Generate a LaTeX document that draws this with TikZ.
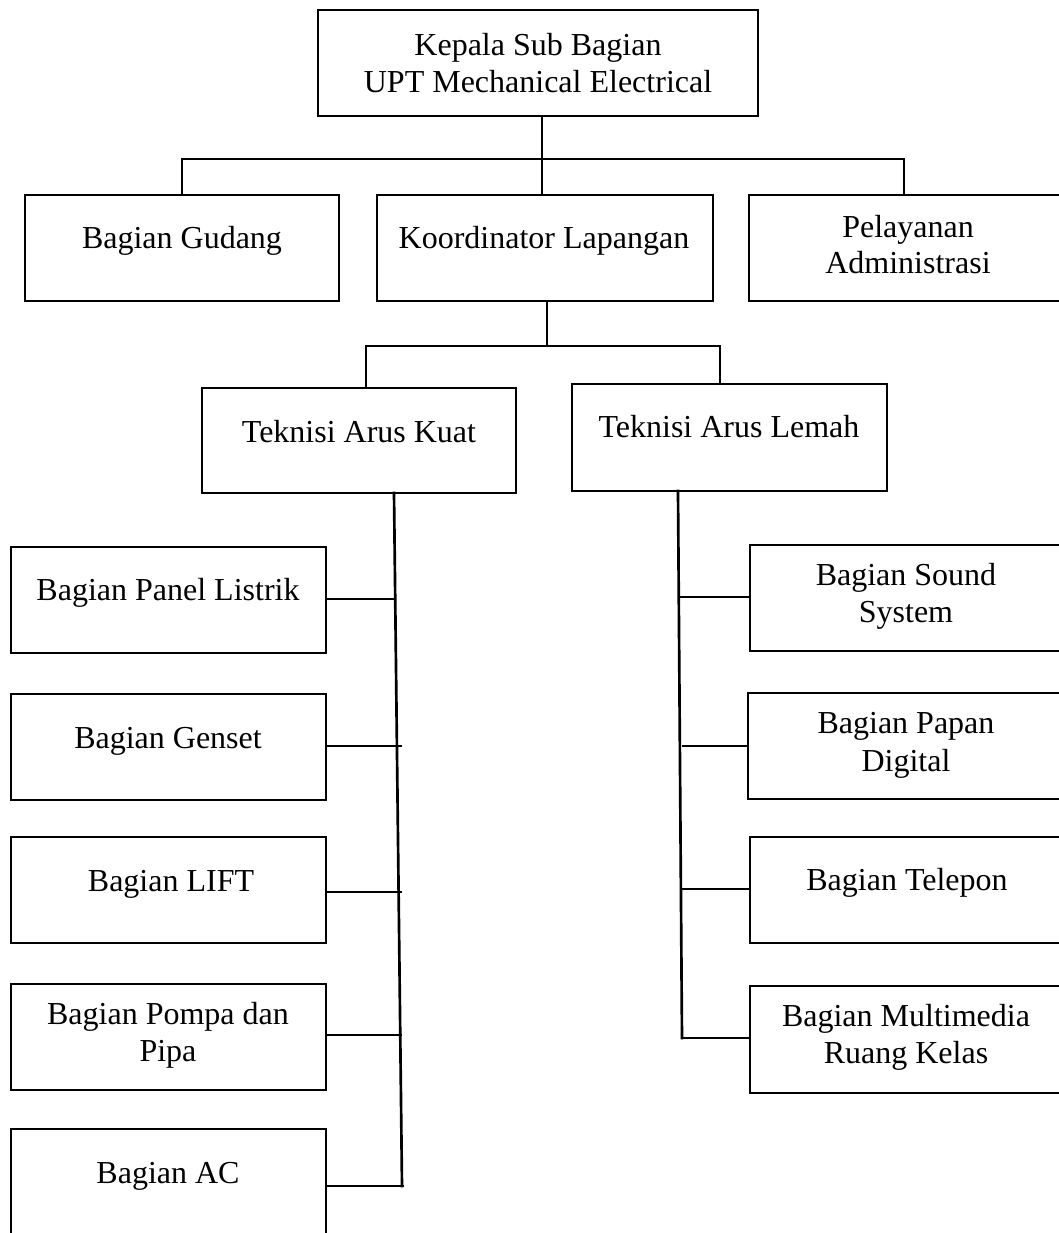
\documentclass[tikz,border=0pt]{standalone}
\usepackage{fontspec}
\setmainfont{Liberation Serif}
\begin{document}
\begin{tikzpicture}[x=0.75pt,y=-0.75pt,
  box/.style={draw=black,line width=2pt,rectangle,inner sep=0pt,fill=none},
  txt/.style={anchor=base,inner sep=0pt,font=\fontsize{24}{28}\selectfont},
  conn/.style={draw=black,line width=2pt,line cap=rect}]
\useasboundingbox (0,0) rectangle (1059,1233);
\newcommand\orgbox[5]{\node[box,minimum width={(#3-#1)*0.75pt},minimum height={(#4-#2)*0.75pt}] (#5) at ({(#1+#3)/2},{(#2+#4)/2}) {};}
% boxes
\orgbox{318}{10}{758}{116}{top}
\orgbox{25}{195}{339}{301}{gud}
\orgbox{377}{195}{713}{301}{kor}
\orgbox{749}{195}{1067}{301}{pel}
\orgbox{202}{388}{516}{493}{kuat}
\orgbox{572}{384}{887}{491}{lemah}
\orgbox{11}{547}{326}{653}{panel}
\orgbox{11}{694}{326}{800}{genset}
\orgbox{11}{837}{326}{943}{lift}
\orgbox{11}{984}{326}{1090}{pompa}
\orgbox{11}{1129}{326}{1240}{ac}
\orgbox{750}{545}{1062}{651}{sound}
\orgbox{748}{693}{1062}{799}{papan}
\orgbox{750}{837}{1062}{943}{telepon}
\orgbox{750}{986}{1062}{1093}{multi}
% texts
\node[txt] (ttop1) at (538,55) {Kepala Sub Bagian};
\node[txt] (ttop2) at (538,92) {UPT Mechanical Electrical};
\node[txt] (tgud) at (182,248) {Bagian Gudang};
\node[txt] (tkor) at (544,248) {Koordinator Lapangan};
\node[txt] (tpel1) at (908,237) {Pelayanan};
\node[txt] (tpel2) at (908,273) {Administrasi};
\node[txt] (tkuat) at (359,442) {Teknisi Arus Kuat};
\node[txt] (tlemah) at (729,437) {Teknisi Arus Lemah};
\node[txt] (tpanel) at (168,600) {Bagian Panel Listrik};
\node[txt] (tgenset) at (168,748) {Bagian Genset};
\node[txt] (tlift) at (171,891) {Bagian LIFT};
\node[txt] (tpompa1) at (168,1024) {Bagian Pompa dan};
\node[txt] (tpompa2) at (168,1061) {Pipa};
\node[txt] (tac) at (168,1183) {Bagian AC};
\node[txt] (tsound1) at (906,585) {Bagian Sound};
\node[txt] (tsound2) at (906,622) {System};
\node[txt] (tpapan1) at (906,733) {Bagian Papan};
\node[txt] (tpapan2) at (906,771) {Digital};
\node[txt] (ttelepon) at (907,890) {Bagian Telepon};
\node[txt] (tmulti1) at (906,1026) {Bagian Multimedia};
\node[txt] (tmulti2) at (906,1063) {Ruang Kelas};
% junctions
\coordinate (j1) at (542,159);
\coordinate (j2) at (547,346);
\coordinate (k1) at (366,346);
\coordinate (k2) at (720,346);
\coordinate (kt) at (394,493);
\coordinate (kb) at (402,1186);
\coordinate (lt) at (678,491);
\coordinate (lb) at (682,1038);
\coordinate (cpanel) at (395,599);
\coordinate (cgenset) at (401,746);
\coordinate (clift) at (401,892);
\coordinate (cpompa) at (401,1035);
\coordinate (cac) at (403,1186);
\coordinate (csound) at (679,597);
\coordinate (cpapan) at (683,746);
\coordinate (ctelepon) at (681,889);
% connectors
\draw[conn] (top.south -| j1) -- (kor.north -| j1);
\draw[conn] (gud.north) |- (j1) -| ([xshift=-3]pel.north);
\draw[conn] (kor.south -| j2) -- (j2);
\draw[conn] (kuat.north -| k1) |- (k2) -- (lemah.north -| k2);
\draw[conn] (kt) -- (kb);
\draw[conn] (lt) -- (lb);
\draw[conn] (panel.east |- cpanel) -- (cpanel);
\draw[conn] (genset.east |- cgenset) -- (cgenset);
\draw[conn] (lift.east |- clift) -- (clift);
\draw[conn] (pompa.east |- cpompa) -- (cpompa);
\draw[conn] (ac.east |- cac) -- (cac);
\draw[conn] (csound) -- (sound.west |- csound);
\draw[conn] (cpapan) -- (papan.west |- cpapan);
\draw[conn] (ctelepon) -- (telepon.west |- ctelepon);
\draw[conn] (lb) -- (multi.west |- lb);
\end{tikzpicture}
\end{document}
